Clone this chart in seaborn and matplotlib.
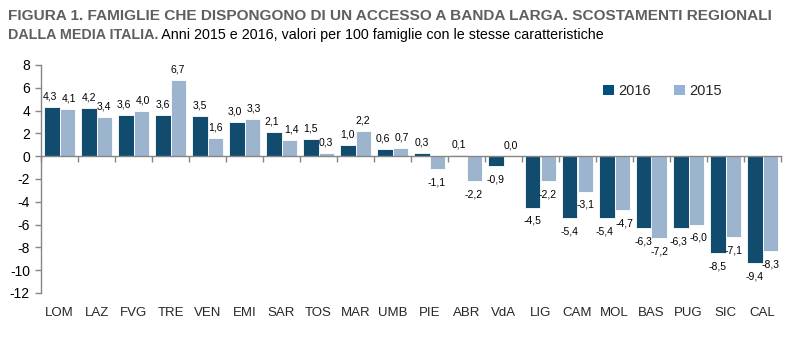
import numpy as np
import pandas as pd
import seaborn as sns
import matplotlib
matplotlib.use("Agg")
import matplotlib.pyplot as plt
from matplotlib.patches import Patch
from matplotlib import font_manager

regions = ["LOM", "LAZ", "FVG", "TRE", "VEN", "EMI", "SAR", "TOS", "MAR", "UMB",
           "PIE", "ABR", "VdA", "LIG", "CAM", "MOL", "BAS", "PUG", "SIC", "CAL"]
values_2016 = [4.3, 4.2, 3.6, 3.6, 3.5, 3.0, 2.1, 1.5, 1.0, 0.6,
               0.3, 0.1, -0.9, -4.5, -5.4, -5.4, -6.3, -6.3, -8.5, -9.4]
values_2015 = [4.1, 3.4, 4.0, 6.7, 1.6, 3.3, 1.4, 0.3, 2.2, 0.7,
               -1.1, -2.2, 0.0, -2.2, -3.1, -4.7, -7.2, -6.0, -7.1, -8.3]
years = ["2016", "2015"]
y_ticks = [-12, -10, -8, -6, -4, -2, 0, 2, 4, 6, 8]

title_line1 = "FIGURA 1. FAMIGLIE CHE DISPONGONO DI UN ACCESSO A BANDA LARGA. SCOSTAMENTI REGIONALI"
title_line2_bold = "DALLA MEDIA ITALIA."
title_line2_reg = " Anni 2015 e 2016, valori per 100 famiglie con le stesse caratteristiche"

sns.set_theme(style="white")
names = {f.name for f in font_manager.fontManager.ttflist}
narrow = "Liberation Sans Narrow" if "Liberation Sans Narrow" in names else "Liberation Sans"
plt.rcParams["font.family"] = [narrow, "DejaVu Sans"]

dark = "#01507f"
light = "#95b3d7"
gray_title = "#5f5f5f"
axis_gray = "#868686"

df = pd.DataFrame({
    "region": regions * 2,
    "year": [years[0]] * len(regions) + [years[1]] * len(regions),
    "value": values_2016 + values_2015,
})

fig = plt.figure(figsize=(8.06, 3.39), dpi=100)
ax = fig.add_axes([41 / 806, 1 - 293 / 339, 740 / 806, 228 / 339])

sns.barplot(data=df, x="region", y="value", hue="year", order=regions,
            hue_order=years, palette=[dark, light], width=0.82,
            edgecolor="white", linewidth=0.6, ax=ax, legend=False)

ax.set_xlim(-0.5, len(regions) - 0.5)
ax.set_ylim(-12, 8)
ax.set_yticks(y_ticks)
ax.set_yticklabels([str(t) for t in y_ticks], fontsize=10)
ax.set_xlabel("")
ax.set_ylabel("")

for side in ["top", "right"]:
    ax.spines[side].set_visible(False)
ax.spines["left"].set_color(axis_gray)
ax.spines["left"].set_linewidth(1.0)
ax.spines["bottom"].set_position(("data", 0))
ax.spines["bottom"].set_color(axis_gray)
ax.spines["bottom"].set_linewidth(1.0)

ax.set_xticks(np.arange(-0.5, len(regions), 1.0))
ax.set_xticklabels([])
ax.tick_params(axis="x", direction="out", length=4, color=axis_gray, width=1.0,
               bottom=True)
ax.tick_params(axis="y", direction="out", length=4, color=axis_gray, width=1.0,
               left=True, pad=4, labelcolor="black")

sec = ax.secondary_xaxis("bottom")
sec.set_xticks(range(len(regions)))
sec.set_xticklabels(regions, fontsize=9.5)
sec.tick_params(length=0, pad=10)
sec.spines["bottom"].set_visible(False)

both = [values_2016, values_2015]
for k, (container, vals) in enumerate(zip(ax.containers, both)):
    other = both[1 - k]
    for i, (bar, v) in enumerate(zip(container, vals)):
        xc = bar.get_x() + bar.get_width() / 2
        label = f"{v:.1f}".replace(".", ",")
        o = other[i]
        dx = 0
        if (v >= 0) == (o >= 0) and abs(v - o) < 0.8:
            dx = -1.5 if k == 0 else 1.5
        if v >= 0:
            ax.annotate(label, (xc, v), xytext=(dx, 4), textcoords="offset points",
                        ha="center", va="bottom", fontsize=7.5, color="black")
        else:
            ax.annotate(label, (xc, v), xytext=(dx, -6), textcoords="offset points",
                        ha="center", va="top", fontsize=7.5, color="black")

handles = [Patch(facecolor=dark, edgecolor="none", label=years[0]),
           Patch(facecolor=light, edgecolor="none", label=years[1])]
fig.legend(handles=handles, loc="center right",
           bbox_to_anchor=(722 / 806, 1 - 91 / 339), ncol=2, frameon=False,
           fontsize=10.5, handlelength=0.75, handleheight=0.75,
           handletextpad=0.3, columnspacing=1.6, borderpad=0, borderaxespad=0)

# Title, sized to fit the reference widths
fig.canvas.draw()
renderer = fig.canvas.get_renderer()
base = 11.5
t1 = fig.text(8 / 806, 1 - 16 / 339, title_line1, fontsize=base, fontweight="bold",
              color=gray_title, va="center", ha="left")
w1 = t1.get_window_extent(renderer=renderer).width
fs1 = base * 772 / w1
t1.set_fontsize(fs1)

t2 = fig.text(8 / 806, 1 - 35 / 339, title_line2_bold, fontsize=fs1,
              fontweight="bold", color=gray_title, va="center", ha="left")
t3 = fig.text(0, 1 - 35 / 339, title_line2_reg, fontsize=fs1,
              color="black", va="center", ha="left")
wb = t2.get_window_extent(renderer=renderer).width
wr = t3.get_window_extent(renderer=renderer).width
scale = (597 - 8) / (wb + wr)
t2.set_fontsize(fs1 * scale)
t3.set_fontsize(fs1 * scale)
bb = t2.get_window_extent(renderer=renderer)
t3.set_x(bb.x1 / fig.bbox.width)

fig.savefig("out.png", dpi=100)
